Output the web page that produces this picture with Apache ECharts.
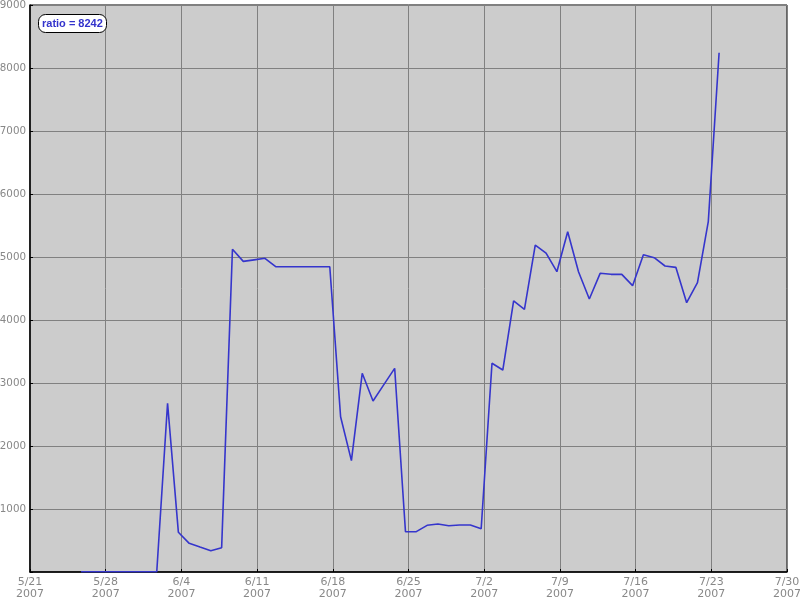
<!DOCTYPE html>
<html>
<head>
<meta charset="utf-8">
<script src="https://cdn.jsdelivr.net/npm/echarts@6/dist/echarts.min.js"></script>
<style>html,body{margin:0;padding:0;background:#fff;}#c{width:800px;height:600px;}</style>
</head>
<body>
<div id="c"></div>
<script>
const startDate = '2007-05-21';
const dates = ['2007-05-25','2007-05-26','2007-05-27','2007-05-28','2007-05-29','2007-05-30','2007-05-31','2007-06-01',
'2007-06-02','2007-06-03','2007-06-04','2007-06-05','2007-06-06','2007-06-07','2007-06-08','2007-06-09','2007-06-10',
'2007-06-11','2007-06-12','2007-06-13','2007-06-14','2007-06-15','2007-06-16','2007-06-17','2007-06-18','2007-06-19',
'2007-06-20','2007-06-21','2007-06-22','2007-06-23','2007-06-24','2007-06-25','2007-06-26','2007-06-27','2007-06-28',
'2007-06-29','2007-06-30','2007-07-01','2007-07-02','2007-07-03','2007-07-04','2007-07-05','2007-07-06','2007-07-07',
'2007-07-08','2007-07-09','2007-07-10','2007-07-11','2007-07-12','2007-07-13','2007-07-14','2007-07-15','2007-07-16',
'2007-07-17','2007-07-18','2007-07-19','2007-07-20','2007-07-21','2007-07-22','2007-07-23'];
const ratio = [5,5,5,5,5,5,5,5,
2678,630,455,396,338,386,5122,4931,4955,
4979,4846,4846,4846,4846,4846,4846,2465,1767,
3154,2714,2974,3233,640,640,741,762,735,
746,746,687,3313,3206,4302,4170,5190,5063,
4767,5402,4767,4333,4741,4725,4725,4545,5037,
4989,4857,4836,4275,4592,5560,8242];
const sampleHour = 17.3;
const tickLabels = ['5/21\n2007','5/28\n2007','6/4\n2007','6/11\n2007','6/18\n2007','6/25\n2007','7/2\n2007','7/9\n2007','7/16\n2007','7/23\n2007','7/30\n2007'];
const yTicks = [0,1000,2000,3000,4000,5000,6000,7000,8000,9000];
const seriesName = 'ratio';

const DAY = 86400000;
const t0 = Date.parse(startDate + 'T00:00:00Z');
const data = dates.map((d, i) => [(Date.parse(d + 'T00:00:00Z') - t0) / DAY + sampleHour / 24, ratio[i]]);

const chart = echarts.init(document.getElementById('c'));
chart.setOption({
  animation: false,
  backgroundColor: '#ffffff',
  title: {
    text: seriesName + ' = ' + ratio[ratio.length - 1],
    left: 38, top: 14,
    padding: [4, 4, 3, 4],
    backgroundColor: '#ffffff',
    borderColor: '#000000',
    borderWidth: 1,
    borderRadius: 7,
    textStyle: { color: '#3333cc', fontSize: 11, fontWeight: 'bold', fontFamily: 'Liberation Sans Narrow, Liberation Sans', lineHeight: 12 }
  },
  grid: {
    left: 30, right: 13, top: 5, bottom: 28,
    outerBoundsMode: 'none', containLabel: false,
    show: true, backgroundColor: '#cccccc', borderColor: '#000000', borderWidth: 1
  },
  xAxis: {
    type: 'value', min: 0, max: (tickLabels.length - 1) * 7, interval: 7,
    axisLine: { show: true, lineStyle: { color: '#000', width: 1.5 } },
    axisTick: { show: true, inside: true, length: 3, lineStyle: { color: '#000' } },
    splitLine: { show: true, lineStyle: { color: '#808080', width: 1 } },
    axisLabel: {
      color: '#888888', fontSize: 11, fontFamily: 'DejaVu Sans', lineHeight: 12, margin: 4,
      hideOverlap: false,
      formatter: v => tickLabels[Math.round(v / 7)] || ''
    }
  },
  yAxis: {
    type: 'value', min: yTicks[0], max: yTicks[yTicks.length - 1], interval: 1000,
    axisLine: { show: true, lineStyle: { color: '#000', width: 1.5 } },
    axisTick: { show: true, inside: true, length: 3, lineStyle: { color: '#000' } },
    splitLine: { show: true, lineStyle: { color: '#808080', width: 1 } },
    axisLabel: {
      color: '#888888', fontSize: 10.3, fontFamily: 'DejaVu Sans', margin: 4,
      formatter: v => v === 0 ? '' : String(v)
    }
  },
  series: [{
    name: seriesName, type: 'line', data: data,
    showSymbol: false, symbol: 'none',
    lineStyle: { color: '#3535cc', width: 1.6 }
  }]
});
</script>
</body>
</html>
